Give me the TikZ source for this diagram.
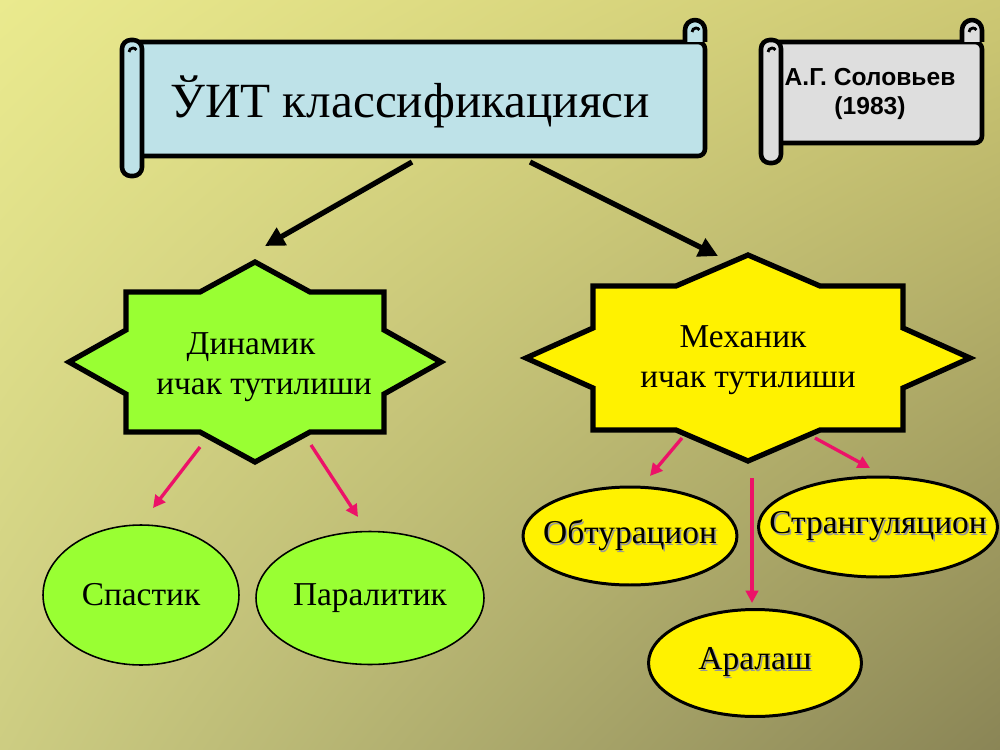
\documentclass[tikz,border=0pt]{standalone}
\usepackage{fontspec}
\setmainfont{Liberation Serif}
\setsansfont{Liberation Sans}
\usetikzlibrary{shapes.geometric,arrows.meta,shadings}

\definecolor{bgul}{RGB}{234,234,142}
\definecolor{bgur}{RGB}{205,200,115}
\definecolor{bgll}{RGB}{205,205,130}
\definecolor{bglr}{RGB}{138,133,86}
\definecolor{scrollblue}{RGB}{190,226,232}
\definecolor{scrollgray}{RGB}{222,222,222}
\definecolor{limegreen}{RGB}{153,255,51}
\definecolor{arrowpink}{RGB}{236,18,104}

\tikzset{
  scrolline/.style={line width=2.6pt, line join=round},
  starline/.style={line width=3pt, line join=miter},
  blackarrow/.style={-{Triangle[length=11pt,width=11pt]}, line width=3pt},
  pinkarrow/.style={-{Triangle[length=7pt,width=7pt]}, line width=1.9pt, draw=arrowpink},
  greenoval/.style={ellipse, draw, line width=0.9pt, fill=limegreen, inner sep=0pt,
    font=\fontsize{19}{23}\selectfont},
  yellowoval/.style={ellipse, draw, line width=1.7pt, fill=yellow, inner sep=0pt,
    font=\fontsize{19}{23}\selectfont},
  startext/.style={align=center, font=\fontsize{19}{22.7}\selectfont},
}

% scroll: fill, left roll x, right roll x, top, bottom
\newcommand\scrollshape[5]{%
  \draw[scrolline, fill=#1, rounded corners=4pt] (#2,#4) rectangle (#3+10,#5);
  \draw[scrolline, fill=#1, rounded corners=5pt] (#2-10,#4-2) rectangle (#2+10,#5+20);
  \draw[scrolline, fill=#1] (#3-10,#4) -- (#3-10,#4-12)
    arc[start angle=180, end angle=360, radius=10] -- (#3+10,#4);
  \draw[line width=1.6pt] (#2-3,#4+10) arc[start angle=180, end angle=330, radius=4];
  \draw[line width=1.6pt] (#3-3,#4-10) arc[start angle=180, end angle=330, radius=4];
}

% 8-point star: fill, cx, cy, a, b, c, d, e, f
\newcommand\eightstar[9]{%
  \draw[starline, fill=#1, shift={(#2,#3)}]
    (0,-#5) -- (#8,-#7) -- (#6,-#7) -- (#6,-#9) -- (#4,0) -- (#6,#9) -- (#6,#7)
    -- (#8,#7) -- (0,#5) -- (-#8,#7) -- (-#6,#7) -- (-#6,#9) -- (-#4,0)
    -- (-#6,-#9) -- (-#6,-#7) -- (-#8,-#7) -- cycle;
}

\newcommand\ovaltext[1]{\makebox[0pt]{#1}}
\newcommand\shadowed[1]{\makebox[0pt]{\rlap{\hspace{0.9pt}\raisebox{-0.9pt}{\color{black!40}#1}}#1}}

\begin{document}
\begin{tikzpicture}[x=0.02cm, y=-0.02cm]
  \useasboundingbox (0,0) rectangle (1000,750);
  \shade[upper left=bgul, upper right=bgur, lower left=bgll, lower right=bglr]
    (0,0) rectangle (1000,750);

  % Scrolls
  \scrollshape{scrollblue}{132}{695}{42}{156}
  \node (title) at (410,102) {\fontsize{28}{33}\selectfont ЎИТ классификацияси};

  \scrollshape{scrollgray}{771}{972}{42}{143}
  \node[align=center, font=\sffamily\bfseries\fontsize{14}{16.5}\selectfont] (author) at (870,94)
    {А.Г. Соловьев\\(1983)};

  % Stars
  \eightstar{limegreen}{255}{362}{186}{100}{129}{70}{55}{32}
  \node[startext] (din) at (264,367) {Динамик\hspace*{0.52cm}\\ ичак тутилиши};

  \eightstar{yellow}{748}{358}{222}{103}{155}{72}{72}{30}
  \node[startext] (mech) at (748,360) {Механик\hspace*{0.2cm}\\ ичак тутилиши};

  % Ovals
  \node[greenoval, minimum width=3.92cm, minimum height=2.8cm] (spastik) at (141,595) {\ovaltext{Спастик}};
  \node[greenoval, minimum width=4.56cm, minimum height=2.66cm] (paralitik) at (370,598) {\ovaltext{Паралитик}};
  \node[yellowoval, minimum width=4.28cm, minimum height=1.96cm] (obtur) at (630,536) {\shadowed{Обтурацион}};
  \node[yellowoval, minimum width=4.78cm, minimum height=2.0cm] (strang) at (878,527) {\shadowed{Странгуляцион}};
  \node[yellowoval, minimum width=4.26cm, minimum height=2.14cm] (aralash) at (755,663) {\shadowed{Аралаш}};

  % Arrow ends
  \coordinate (t1) at (412,162);
  \coordinate (t2) at (530,162);
  \coordinate (d0) at (265,246);
  \coordinate (m0) at (718,256);
  \coordinate (d1) at (200,447);
  \coordinate (d2) at (311,445);
  \coordinate (s0) at (153,508);
  \coordinate (p0) at (358,517);
  \coordinate (m1) at (682,438);
  \coordinate (m2) at (815,438);
  \coordinate (m3) at (752,478);
  \coordinate (o0) at (650,476);
  \coordinate (g0) at (870,468);
  \coordinate (a0) at (752,603);

  \draw[blackarrow] (t1) -- (d0);
  \draw[blackarrow] (t2) -- (m0);

  \draw[pinkarrow] (d1) -- (s0);
  \draw[pinkarrow] (d2) -- (p0);
  \draw[pinkarrow] (m1) -- (o0);
  \draw[pinkarrow] (m2) -- (g0);
  \draw[pinkarrow] (m3) -- (a0);
\end{tikzpicture}
\end{document}
